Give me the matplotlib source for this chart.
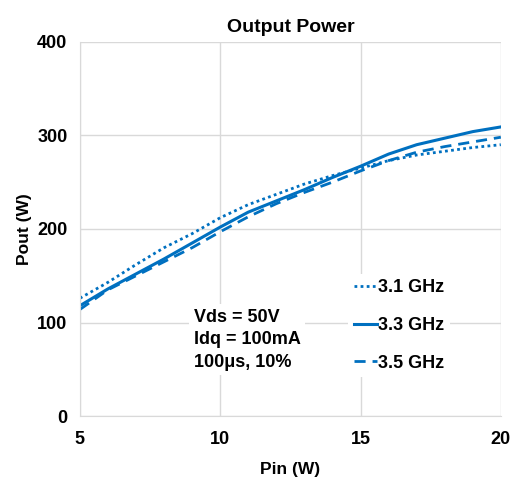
import matplotlib.pyplot as plt
import numpy as np

plt.rcParams['font.family'] = ['Liberation Sans', 'DejaVu Sans']
plt.rcParams['font.weight'] = 'bold'

# ------------------------------------------------#
#   data
# ------------------------------------------------#
pin = [5, 6, 7, 8, 9, 10, 11, 12, 13, 14, 15, 16, 17, 18, 19, 20]
pout_31 = [126, 143, 162, 180, 195, 212, 226, 237, 248, 257, 265, 273, 279, 283, 287, 290]
pout_33 = [118, 136, 152, 168, 185, 202, 218, 230, 242, 255, 267, 280, 290, 297, 304, 309]
pout_35 = [114, 135, 150, 165, 180, 197, 213, 227, 239, 250, 262, 273, 282, 288, 293, 298]
labels = ['3.1 GHz', '3.3 GHz', '3.5 GHz']
x_ticks = [5, 10, 15, 20]
y_ticks = [0, 100, 200, 300, 400]

color = '#0070C0'

fig = plt.figure(figsize=(5.19, 4.8), dpi=100)
ax = fig.add_axes([0.154, 0.133, 0.811, 0.78])

ax.plot(pin, pout_31, color=color, lw=2, ls=(0, (1, 1.2)), label=labels[0])
ax.plot(pin, pout_33, color=color, lw=2.2, ls='-', label=labels[1])
ax.plot(pin, pout_35, color=color, lw=2, ls=(0, (4, 2.5)), label=labels[2])

ax.set_xlim(5, 20)
ax.set_ylim(0, 400)
ax.set_xticks(x_ticks)
ax.set_yticks(y_ticks)
ax.grid(True, color='#d9d9d9', lw=1)
ax.set_axisbelow(True)
for s in ['top', 'right']:
    ax.spines[s].set_visible(False)
for s in ['left', 'bottom']:
    ax.spines[s].set_color('#d9d9d9')
ax.tick_params(length=0, labelsize=13)
ax.tick_params(axis='x', pad=11)
ax.tick_params(axis='y', pad=9)
for lab in ax.get_xticklabels() + ax.get_yticklabels():
    lab.set_fontweight('bold')

ax.set_title('Output Power', fontsize=14, fontweight='bold', pad=7)
ax.set_xlabel('Pin (W)', fontsize=12.5, fontweight='bold', labelpad=10)
ax.set_ylabel('Pout (W)', fontsize=12.5, fontweight='bold', labelpad=4)

leg = ax.legend(loc='lower right', bbox_to_anchor=(0.9, 0.08), frameon=True,
                fontsize=13, handlelength=1.3, handletextpad=0.05,
                labelspacing=1.15, borderpad=0.3)
leg.get_frame().set_edgecolor('none')
leg.get_frame().set_facecolor('white')
leg.get_frame().set_alpha(1)
for t in leg.get_texts():
    t.set_fontweight('bold')

ax.text(0.27, 0.12, 'Vds = 50V\nIdq = 100mA\n100\u03bcs, 10%', transform=ax.transAxes,
        fontsize=13, fontweight='bold', linespacing=1.45, va='bottom', ha='left',
        bbox=dict(facecolor='white', edgecolor='none', pad=3))

fig.savefig('out.png', dpi=100)
